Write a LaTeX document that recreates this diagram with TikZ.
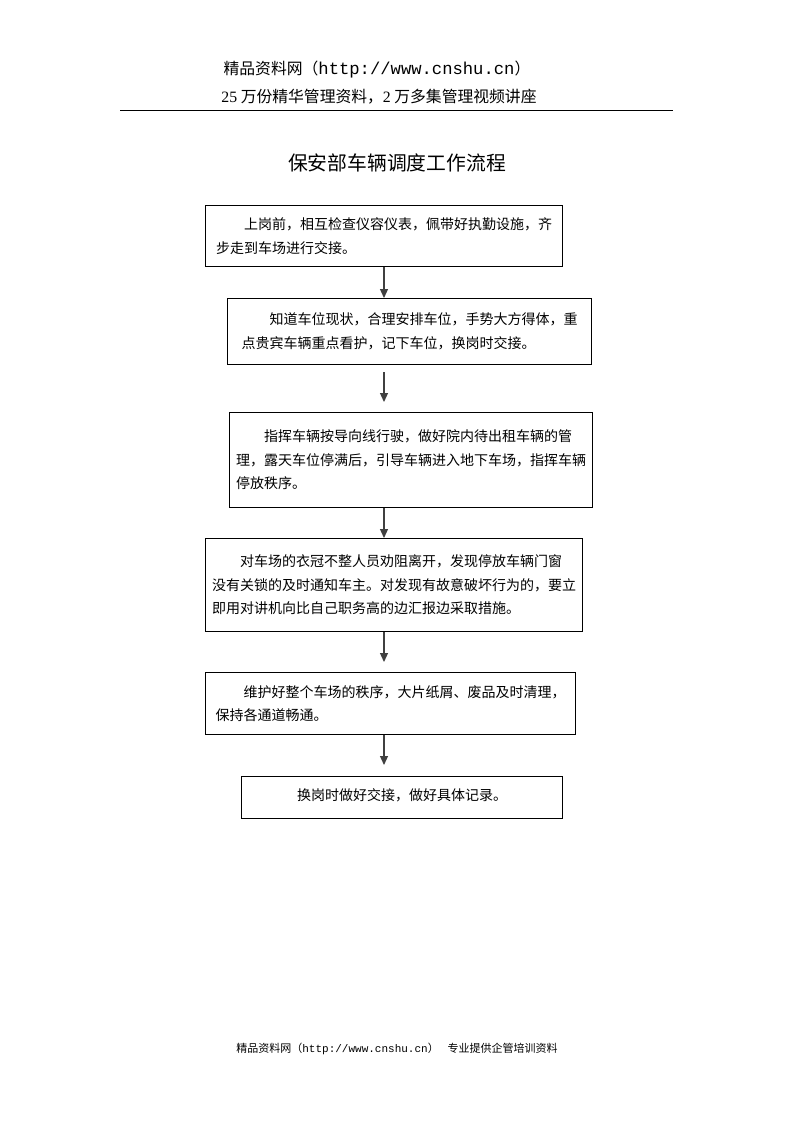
\documentclass[tikz,border=0pt]{standalone}
\usepackage{fontspec}
\setmainfont{Noto Sans CJK SC}
\newfontfamily\cjk{Noto Sans CJK SC}
\newfontfamily\mono{Liberation Mono}
\newfontfamily\serifd{Liberation Serif}
\usetikzlibrary{arrows.meta}
\tikzset{
  stepbox/.style={draw=black, line width=1pt, anchor=north west, align=left, inner sep=3pt,
     font=\fontsize{14}{23.5}\selectfont\cjk},
  flowarrow/.style={draw=black!75, line width=1.2pt, -{Triangle[width=8pt,length=9pt]}},
}
\begin{document}
\begin{tikzpicture}[x=1pt,y=-1pt]
\path[use as bounding box, fill=white] (0,0) rectangle (793,1122);
% header
\node[font=\fontsize{15.8}{20}\selectfont] (h1) at (377,70) {\cjk 精品资料网（{\fontsize{17.2}{20}\selectfont\mono http://www.cnshu.cn}）};
\node[font=\fontsize{15.8}{20}\selectfont] (h2) at (379,97) {{\serifd 25} 万份精华管理资料，{\serifd 2} 万多集管理视频讲座};
\coordinate (rl) at (120,110);
\coordinate (rr) at (673,110);
\draw[line width=1pt] (rl) -- (rr);
% title
\node[font=\fontsize{19.8}{22}\selectfont\cjk] (title) at (397,163) {保安部车辆调度工作流程};
% boxes
\node[stepbox, minimum width=357pt, minimum height=61pt] (b1) at (205,205)
  {\hspace*{2em}上岗前，相互检查仪容仪表，佩带好执勤设施，齐\\步走到车场进行交接。};
\node[stepbox, minimum width=364pt, minimum height=66pt] (b2) at (227,298)
  {\hspace*{2em}知道车位现状，合理安排车位，手势大方得体，重\\点贵宾车辆重点看护，记下车位，换岗时交接。};
\node[stepbox, minimum width=363pt, minimum height=95pt] (b3) at (229,412)
  {\hspace*{2em}指挥车辆按导向线行驶，做好院内待出租车辆的管\\理，露天车位停满后，引导车辆进入地下车场，指挥车辆\\停放秩序。};
\node[stepbox, minimum width=377pt, minimum height=93pt] (b4) at (205,538)
  {\hspace*{2em}对车场的衣冠不整人员劝阻离开，发现停放车辆门窗\\没有关锁的及时通知车主。对发现有故意破坏行为的，要立\\即用对讲机向比自己职务高的边汇报边采取措施。};
\node[stepbox, minimum width=370pt, minimum height=62pt] (b5) at (205,672)
  {\hspace*{2em}维护好整个车场的秩序，大片纸屑、废品及时清理，\\保持各通道畅通。};
\node[stepbox, align=center, minimum width=321pt, minimum height=42pt, text depth=6pt] (b6) at (241,776)
  {换岗时做好交接，做好具体记录。};
% connectors
\coordinate (ax) at (384,0);
\draw[flowarrow] (b1.south -| ax) -- (b2.north -| ax);
\draw[flowarrow, shorten <=7pt, shorten >=10pt] (b2.south -| ax) -- (b3.north -| ax);
\draw[flowarrow] (b3.south -| ax) -- (b4.north -| ax);
\draw[flowarrow, shorten >=10pt] (b4.south -| ax) -- (b5.north -| ax);
\draw[flowarrow, shorten >=11pt] (b5.south -| ax) -- (b6.north -| ax);
% footer
\node[font=\fontsize{11}{13}\selectfont] (foot) at (397,1049) {\cjk 精品资料网（{\mono http://www.cnshu.cn}）\hspace{0.8em}专业提供企管培训资料};
\end{tikzpicture}
\end{document}
